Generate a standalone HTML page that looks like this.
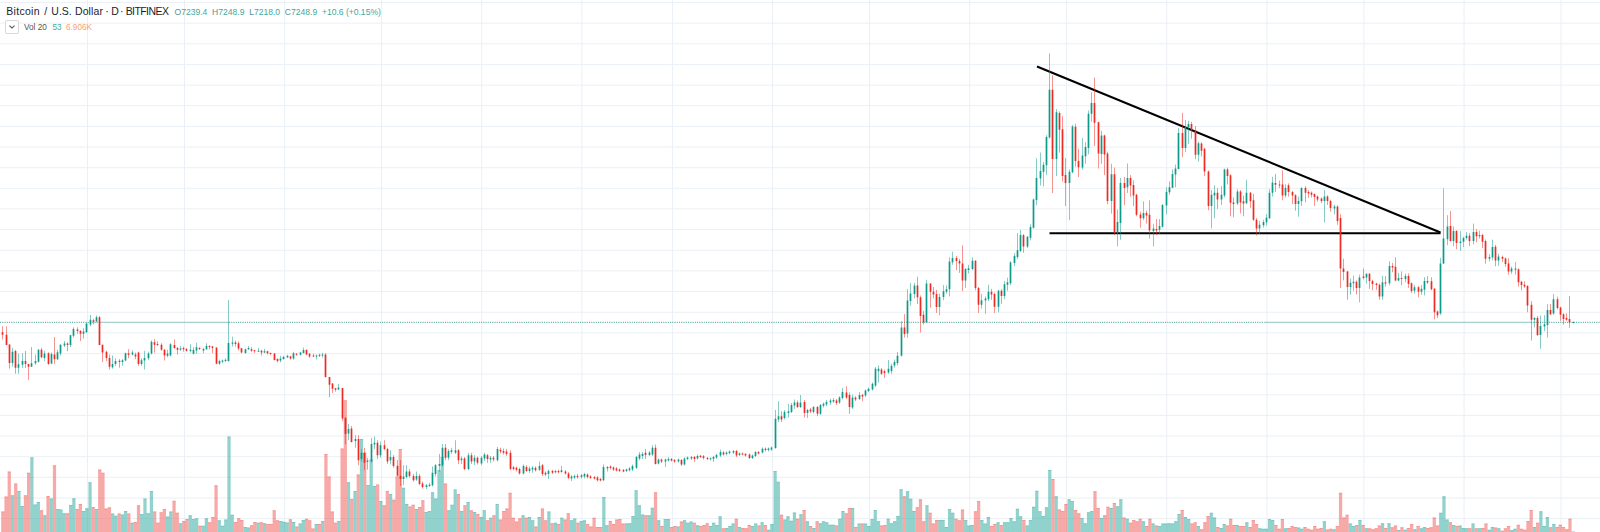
<!DOCTYPE html>
<html><head><meta charset="utf-8"><title>Bitcoin / U.S. Dollar</title>
<style>
html,body{margin:0;padding:0;background:#fff;}
body{width:1600px;height:532px;overflow:hidden;position:relative;font-family:"Liberation Sans",sans-serif;}
.chart{position:absolute;left:0;top:0;}
.t{position:absolute;white-space:nowrap;line-height:1;}
.title{left:6px;top:6.2px;font-size:10.5px;color:#1c1c28;width:170px;height:12px;}
.title span{position:absolute;top:0;}
.ohlc{left:174.5px;top:7.8px;font-size:8.55px;color:#3fa89c;}
.ohlc i{font-style:normal;color:#5d8f97;}
.btn{position:absolute;left:5.4px;top:20.4px;width:13.9px;height:13.4px;border:1px solid #d9d9d9;border-radius:2px;box-sizing:border-box;background:#fff;}
.vol{left:24px;top:24px;font-size:8.2px;color:#555;}
.v1{left:52.5px;top:24px;font-size:8.2px;color:#4aa99e;}
.v2{left:66px;top:24px;font-size:8.2px;color:#f7a26e;}
</style></head><body>
<div class="chart"><svg width="1600" height="532" viewBox="0 0 1600 532" style="display:block">
<rect width="1600" height="532" fill="#fff"/>
<path d="M0 2.5H1600M0 23.1H1600M0 43.8H1600M0 64.4H1600M0 85.1H1600M0 105.7H1600M0 126.4H1600M0 147.0H1600M0 167.7H1600M0 188.3H1600M0 208.9H1600M0 229.6H1600M0 250.2H1600M0 270.9H1600M0 291.5H1600M0 312.2H1600M0 332.8H1600M0 353.5H1600M0 374.1H1600M0 394.8H1600M0 415.4H1600M0 436.0H1600M0 456.7H1600M0 477.3H1600M0 498.0H1600M0 518.6H1600M87.5 0V532M184.5 0V532M284.6 0V532M381.6 0V532M481.7 0V532M581.9 0V532M672.4 0V532M772.5 0V532M869.5 0V532M969.7 0V532M1066.6 0V532M1166.8 0V532M1266.9 0V532M1363.9 0V532M1464.0 0V532M1561.0 0V532" stroke="#eaf0f6" stroke-width="1" fill="none"/>
<path d="M10.88 495.2h3.23V532h-3.23zM17.34 491.0h3.23V532h-3.23zM20.57 506.0h3.23V532h-3.23zM30.27 457.2h3.23V532h-3.23zM33.50 504.5h3.23V532h-3.23zM36.73 502.0h3.23V532h-3.23zM43.19 515.2h3.23V532h-3.23zM49.65 498.5h3.23V532h-3.23zM56.12 509.0h3.23V532h-3.23zM59.35 509.5h3.23V532h-3.23zM62.58 513.2h3.23V532h-3.23zM69.04 505.0h3.23V532h-3.23zM72.27 498.2h3.23V532h-3.23zM81.97 511.0h3.23V532h-3.23zM85.20 508.2h3.23V532h-3.23zM88.43 482.2h3.23V532h-3.23zM94.89 509.0h3.23V532h-3.23zM111.05 513.5h3.23V532h-3.23zM114.28 515.8h3.23V532h-3.23zM120.74 514.5h3.23V532h-3.23zM123.97 511.0h3.23V532h-3.23zM130.44 522.8h3.23V532h-3.23zM140.13 514.0h3.23V532h-3.23zM143.36 498.5h3.23V532h-3.23zM146.59 513.2h3.23V532h-3.23zM149.82 491.0h3.23V532h-3.23zM165.98 516.5h3.23V532h-3.23zM169.21 511.5h3.23V532h-3.23zM178.91 523.2h3.23V532h-3.23zM188.60 515.2h3.23V532h-3.23zM191.83 519.0h3.23V532h-3.23zM195.06 518.2h3.23V532h-3.23zM201.52 525.8h3.23V532h-3.23zM204.76 518.2h3.23V532h-3.23zM217.68 520.2h3.23V532h-3.23zM220.91 525.8h3.23V532h-3.23zM224.14 519.5h3.23V532h-3.23zM227.38 436.5h3.23V532h-3.23zM230.61 514.8h3.23V532h-3.23zM243.53 527.0h3.23V532h-3.23zM246.76 527.5h3.23V532h-3.23zM256.46 522.8h3.23V532h-3.23zM262.92 523.2h3.23V532h-3.23zM279.08 521.0h3.23V532h-3.23zM282.31 521.8h3.23V532h-3.23zM285.54 522.5h3.23V532h-3.23zM292.00 522.0h3.23V532h-3.23zM298.46 523.5h3.23V532h-3.23zM301.70 520.0h3.23V532h-3.23zM314.62 524.0h3.23V532h-3.23zM321.08 521.0h3.23V532h-3.23zM337.24 521.0h3.23V532h-3.23zM346.93 482.2h3.23V532h-3.23zM353.40 491.0h3.23V532h-3.23zM359.86 439.0h3.23V532h-3.23zM366.32 485.0h3.23V532h-3.23zM369.55 459.5h3.23V532h-3.23zM372.78 486.0h3.23V532h-3.23zM379.25 501.0h3.23V532h-3.23zM388.94 494.0h3.23V532h-3.23zM401.87 487.8h3.23V532h-3.23zM405.10 504.0h3.23V532h-3.23zM414.79 509.0h3.23V532h-3.23zM424.48 512.0h3.23V532h-3.23zM427.72 511.0h3.23V532h-3.23zM430.95 492.2h3.23V532h-3.23zM434.18 498.5h3.23V532h-3.23zM437.41 470.2h3.23V532h-3.23zM440.64 457.0h3.23V532h-3.23zM447.10 510.2h3.23V532h-3.23zM450.34 504.8h3.23V532h-3.23zM453.57 489.5h3.23V532h-3.23zM460.03 511.0h3.23V532h-3.23zM466.49 502.0h3.23V532h-3.23zM472.95 512.0h3.23V532h-3.23zM479.42 517.0h3.23V532h-3.23zM482.65 510.2h3.23V532h-3.23zM489.11 517.8h3.23V532h-3.23zM495.57 504.0h3.23V532h-3.23zM521.42 515.2h3.23V532h-3.23zM527.89 517.0h3.23V532h-3.23zM531.12 520.2h3.23V532h-3.23zM537.58 517.0h3.23V532h-3.23zM547.27 511.5h3.23V532h-3.23zM553.74 522.8h3.23V532h-3.23zM560.20 517.8h3.23V532h-3.23zM569.89 520.2h3.23V532h-3.23zM573.12 518.5h3.23V532h-3.23zM579.59 521.0h3.23V532h-3.23zM582.82 520.2h3.23V532h-3.23zM602.21 497.0h3.23V532h-3.23zM605.44 525.2h3.23V532h-3.23zM624.83 523.5h3.23V532h-3.23zM628.06 523.2h3.23V532h-3.23zM631.29 516.0h3.23V532h-3.23zM634.52 490.2h3.23V532h-3.23zM637.75 505.2h3.23V532h-3.23zM640.98 514.5h3.23V532h-3.23zM647.44 515.2h3.23V532h-3.23zM650.68 507.8h3.23V532h-3.23zM657.14 520.2h3.23V532h-3.23zM663.60 519.0h3.23V532h-3.23zM666.83 519.0h3.23V532h-3.23zM676.53 526.5h3.23V532h-3.23zM682.99 520.2h3.23V532h-3.23zM686.22 522.8h3.23V532h-3.23zM689.45 521.5h3.23V532h-3.23zM695.91 525.2h3.23V532h-3.23zM708.84 526.0h3.23V532h-3.23zM712.07 522.8h3.23V532h-3.23zM715.30 525.0h3.23V532h-3.23zM718.53 516.2h3.23V532h-3.23zM725.00 527.9h3.23V532h-3.23zM728.23 526.0h3.23V532h-3.23zM731.46 523.5h3.23V532h-3.23zM737.92 526.9h3.23V532h-3.23zM750.85 526.0h3.23V532h-3.23zM754.08 523.5h3.23V532h-3.23zM760.54 522.2h3.23V532h-3.23zM767.00 529.7h3.23V532h-3.23zM770.23 524.1h3.23V532h-3.23zM773.47 471.1h3.23V532h-3.23zM776.70 481.8h3.23V532h-3.23zM783.16 519.4h3.23V532h-3.23zM786.39 516.2h3.23V532h-3.23zM789.62 520.7h3.23V532h-3.23zM792.85 512.5h3.23V532h-3.23zM799.32 514.3h3.23V532h-3.23zM805.78 521.3h3.23V532h-3.23zM812.24 527.9h3.23V532h-3.23zM818.70 523.2h3.23V532h-3.23zM821.93 521.3h3.23V532h-3.23zM825.17 522.2h3.23V532h-3.23zM828.40 524.7h3.23V532h-3.23zM831.63 524.7h3.23V532h-3.23zM838.09 518.8h3.23V532h-3.23zM841.32 510.9h3.23V532h-3.23zM851.02 508.1h3.23V532h-3.23zM857.48 523.5h3.23V532h-3.23zM863.94 523.5h3.23V532h-3.23zM867.17 526.0h3.23V532h-3.23zM870.40 519.0h3.23V532h-3.23zM873.64 510.0h3.23V532h-3.23zM876.87 521.3h3.23V532h-3.23zM886.56 518.8h3.23V532h-3.23zM889.79 523.2h3.23V532h-3.23zM893.02 521.3h3.23V532h-3.23zM896.25 516.0h3.23V532h-3.23zM899.49 489.3h3.23V532h-3.23zM905.95 491.2h3.23V532h-3.23zM909.18 498.7h3.23V532h-3.23zM912.41 510.9h3.23V532h-3.23zM925.34 505.3h3.23V532h-3.23zM938.26 520.0h3.23V532h-3.23zM941.49 520.0h3.23V532h-3.23zM944.72 526.9h3.23V532h-3.23zM947.96 509.1h3.23V532h-3.23zM951.19 512.8h3.23V532h-3.23zM964.11 520.0h3.23V532h-3.23zM967.34 525.4h3.23V532h-3.23zM970.57 525.0h3.23V532h-3.23zM980.27 520.0h3.23V532h-3.23zM983.50 523.5h3.23V532h-3.23zM986.73 517.0h3.23V532h-3.23zM996.42 522.2h3.23V532h-3.23zM1002.89 522.2h3.23V532h-3.23zM1006.12 522.2h3.23V532h-3.23zM1009.35 518.1h3.23V532h-3.23zM1012.58 521.3h3.23V532h-3.23zM1015.81 508.7h3.23V532h-3.23zM1019.04 516.2h3.23V532h-3.23zM1025.51 525.4h3.23V532h-3.23zM1028.74 520.0h3.23V532h-3.23zM1031.97 506.8h3.23V532h-3.23zM1035.20 490.8h3.23V532h-3.23zM1038.43 511.3h3.23V532h-3.23zM1041.66 516.0h3.23V532h-3.23zM1044.89 507.2h3.23V532h-3.23zM1048.13 470.0h3.23V532h-3.23zM1054.59 496.3h3.23V532h-3.23zM1067.51 499.3h3.23V532h-3.23zM1070.74 501.0h3.23V532h-3.23zM1080.44 518.1h3.23V532h-3.23zM1083.67 523.2h3.23V532h-3.23zM1086.90 512.3h3.23V532h-3.23zM1090.13 510.9h3.23V532h-3.23zM1099.83 518.1h3.23V532h-3.23zM1109.52 508.1h3.23V532h-3.23zM1115.98 506.2h3.23V532h-3.23zM1119.21 499.3h3.23V532h-3.23zM1125.68 518.8h3.23V532h-3.23zM1141.83 521.3h3.23V532h-3.23zM1151.53 523.5h3.23V532h-3.23zM1157.99 526.0h3.23V532h-3.23zM1161.22 523.5h3.23V532h-3.23zM1164.45 523.5h3.23V532h-3.23zM1167.68 523.2h3.23V532h-3.23zM1170.91 523.5h3.23V532h-3.23zM1174.15 521.3h3.23V532h-3.23zM1177.38 514.1h3.23V532h-3.23zM1183.84 517.0h3.23V532h-3.23zM1187.07 519.0h3.23V532h-3.23zM1196.77 526.0h3.23V532h-3.23zM1209.69 512.8h3.23V532h-3.23zM1212.92 517.5h3.23V532h-3.23zM1219.38 527.9h3.23V532h-3.23zM1222.62 524.1h3.23V532h-3.23zM1235.54 525.0h3.23V532h-3.23zM1245.23 522.2h3.23V532h-3.23zM1258.16 528.2h3.23V532h-3.23zM1261.39 528.8h3.23V532h-3.23zM1264.62 528.8h3.23V532h-3.23zM1267.85 519.0h3.23V532h-3.23zM1271.09 520.0h3.23V532h-3.23zM1284.01 528.2h3.23V532h-3.23zM1296.94 527.5h3.23V532h-3.23zM1300.17 528.8h3.23V532h-3.23zM1322.79 521.3h3.23V532h-3.23zM1332.48 529.2h3.23V532h-3.23zM1348.64 523.5h3.23V532h-3.23zM1351.87 526.0h3.23V532h-3.23zM1358.33 520.0h3.23V532h-3.23zM1364.79 528.2h3.23V532h-3.23zM1380.95 523.2h3.23V532h-3.23zM1387.41 523.2h3.23V532h-3.23zM1397.11 530.1h3.23V532h-3.23zM1403.57 529.7h3.23V532h-3.23zM1413.26 529.2h3.23V532h-3.23zM1419.73 528.2h3.23V532h-3.23zM1422.96 526.9h3.23V532h-3.23zM1439.11 512.8h3.23V532h-3.23zM1442.34 496.3h3.23V532h-3.23zM1445.58 519.4h3.23V532h-3.23zM1452.04 525.0h3.23V532h-3.23zM1458.50 525.4h3.23V532h-3.23zM1461.73 527.9h3.23V532h-3.23zM1464.96 528.2h3.23V532h-3.23zM1471.43 523.5h3.23V532h-3.23zM1477.89 528.2h3.23V532h-3.23zM1487.58 529.7h3.23V532h-3.23zM1490.81 526.9h3.23V532h-3.23zM1497.28 528.2h3.23V532h-3.23zM1510.20 530.1h3.23V532h-3.23zM1513.43 528.8h3.23V532h-3.23zM1532.82 526.9h3.23V532h-3.23zM1539.28 511.3h3.23V532h-3.23zM1542.51 526.0h3.23V532h-3.23zM1545.75 517.0h3.23V532h-3.23zM1552.21 524.1h3.23V532h-3.23zM1571.60 531.6h3.23V532h-3.23z" fill="#26a69a" fill-opacity="0.5"/>
<path d="M1.18 511.5h3.23V532h-3.23zM4.42 496.5h3.23V532h-3.23zM7.65 471.5h3.23V532h-3.23zM14.11 483.5h3.23V532h-3.23zM23.80 495.2h3.23V532h-3.23zM27.03 472.8h3.23V532h-3.23zM39.96 510.2h3.23V532h-3.23zM46.42 496.0h3.23V532h-3.23zM52.89 465.2h3.23V532h-3.23zM65.81 513.2h3.23V532h-3.23zM75.50 509.0h3.23V532h-3.23zM78.74 504.0h3.23V532h-3.23zM91.66 507.0h3.23V532h-3.23zM98.12 469.5h3.23V532h-3.23zM101.35 472.8h3.23V532h-3.23zM104.59 508.5h3.23V532h-3.23zM107.82 507.2h3.23V532h-3.23zM117.51 513.5h3.23V532h-3.23zM127.21 513.5h3.23V532h-3.23zM133.67 522.0h3.23V532h-3.23zM136.90 505.2h3.23V532h-3.23zM153.06 511.5h3.23V532h-3.23zM156.29 522.8h3.23V532h-3.23zM159.52 512.2h3.23V532h-3.23zM162.75 509.0h3.23V532h-3.23zM172.44 500.8h3.23V532h-3.23zM175.67 512.8h3.23V532h-3.23zM182.14 521.0h3.23V532h-3.23zM185.37 519.0h3.23V532h-3.23zM198.29 525.8h3.23V532h-3.23zM207.99 522.2h3.23V532h-3.23zM211.22 517.0h3.23V532h-3.23zM214.45 485.2h3.23V532h-3.23zM233.84 522.0h3.23V532h-3.23zM237.07 518.2h3.23V532h-3.23zM240.30 520.0h3.23V532h-3.23zM249.99 525.2h3.23V532h-3.23zM253.23 522.0h3.23V532h-3.23zM259.69 522.2h3.23V532h-3.23zM266.15 524.0h3.23V532h-3.23zM269.38 524.0h3.23V532h-3.23zM272.61 510.2h3.23V532h-3.23zM275.84 520.2h3.23V532h-3.23zM288.77 519.2h3.23V532h-3.23zM295.23 526.5h3.23V532h-3.23zM304.93 518.8h3.23V532h-3.23zM308.16 520.2h3.23V532h-3.23zM311.39 528.5h3.23V532h-3.23zM317.85 524.0h3.23V532h-3.23zM324.31 454.0h3.23V532h-3.23zM327.55 476.5h3.23V532h-3.23zM330.78 511.5h3.23V532h-3.23zM334.01 522.8h3.23V532h-3.23zM340.47 448.5h3.23V532h-3.23zM343.70 400.2h3.23V532h-3.23zM350.16 499.0h3.23V532h-3.23zM356.63 474.5h3.23V532h-3.23zM363.09 452.8h3.23V532h-3.23zM376.02 484.5h3.23V532h-3.23zM382.48 505.2h3.23V532h-3.23zM385.71 491.0h3.23V532h-3.23zM392.17 499.8h3.23V532h-3.23zM395.40 476.5h3.23V532h-3.23zM398.63 449.0h3.23V532h-3.23zM408.33 506.5h3.23V532h-3.23zM411.56 504.8h3.23V532h-3.23zM418.02 507.0h3.23V532h-3.23zM421.25 500.2h3.23V532h-3.23zM443.87 483.5h3.23V532h-3.23zM456.80 494.0h3.23V532h-3.23zM463.26 505.2h3.23V532h-3.23zM469.72 510.2h3.23V532h-3.23zM476.19 514.0h3.23V532h-3.23zM485.88 520.2h3.23V532h-3.23zM492.34 515.2h3.23V532h-3.23zM498.80 519.5h3.23V532h-3.23zM502.04 511.0h3.23V532h-3.23zM505.27 508.5h3.23V532h-3.23zM508.50 492.8h3.23V532h-3.23zM511.73 517.8h3.23V532h-3.23zM514.96 521.5h3.23V532h-3.23zM518.19 518.2h3.23V532h-3.23zM524.65 517.8h3.23V532h-3.23zM534.35 526.5h3.23V532h-3.23zM540.81 508.5h3.23V532h-3.23zM544.04 520.2h3.23V532h-3.23zM550.51 523.2h3.23V532h-3.23zM556.97 524.0h3.23V532h-3.23zM563.43 519.5h3.23V532h-3.23zM566.66 513.2h3.23V532h-3.23zM576.36 522.8h3.23V532h-3.23zM586.05 524.0h3.23V532h-3.23zM589.28 526.5h3.23V532h-3.23zM592.51 517.8h3.23V532h-3.23zM595.74 527.0h3.23V532h-3.23zM598.97 527.0h3.23V532h-3.23zM608.67 521.0h3.23V532h-3.23zM611.90 524.0h3.23V532h-3.23zM615.13 519.5h3.23V532h-3.23zM618.36 519.0h3.23V532h-3.23zM621.59 523.5h3.23V532h-3.23zM644.21 515.2h3.23V532h-3.23zM653.91 492.2h3.23V532h-3.23zM660.37 526.0h3.23V532h-3.23zM670.06 527.0h3.23V532h-3.23zM673.29 526.0h3.23V532h-3.23zM679.76 521.5h3.23V532h-3.23zM692.68 522.8h3.23V532h-3.23zM699.15 526.0h3.23V532h-3.23zM702.38 525.0h3.23V532h-3.23zM705.61 523.2h3.23V532h-3.23zM721.76 528.2h3.23V532h-3.23zM734.69 518.8h3.23V532h-3.23zM741.15 527.9h3.23V532h-3.23zM744.38 528.2h3.23V532h-3.23zM747.61 525.0h3.23V532h-3.23zM757.31 525.6h3.23V532h-3.23zM763.77 525.0h3.23V532h-3.23zM779.93 514.7h3.23V532h-3.23zM796.08 518.8h3.23V532h-3.23zM802.55 510.0h3.23V532h-3.23zM809.01 526.0h3.23V532h-3.23zM815.47 521.3h3.23V532h-3.23zM834.86 525.4h3.23V532h-3.23zM844.55 513.2h3.23V532h-3.23zM847.78 508.1h3.23V532h-3.23zM854.25 526.9h3.23V532h-3.23zM860.71 523.5h3.23V532h-3.23zM880.10 525.4h3.23V532h-3.23zM883.33 525.0h3.23V532h-3.23zM902.72 496.3h3.23V532h-3.23zM915.64 507.2h3.23V532h-3.23zM918.87 499.3h3.23V532h-3.23zM922.10 521.3h3.23V532h-3.23zM928.57 512.8h3.23V532h-3.23zM931.80 523.5h3.23V532h-3.23zM935.03 520.0h3.23V532h-3.23zM954.42 518.8h3.23V532h-3.23zM957.65 520.3h3.23V532h-3.23zM960.88 509.4h3.23V532h-3.23zM973.81 511.3h3.23V532h-3.23zM977.04 501.0h3.23V532h-3.23zM989.96 526.0h3.23V532h-3.23zM993.19 524.1h3.23V532h-3.23zM999.66 525.0h3.23V532h-3.23zM1022.28 520.0h3.23V532h-3.23zM1051.36 479.0h3.23V532h-3.23zM1057.82 509.4h3.23V532h-3.23zM1061.05 510.9h3.23V532h-3.23zM1064.28 504.0h3.23V532h-3.23zM1073.98 510.0h3.23V532h-3.23zM1077.21 513.2h3.23V532h-3.23zM1093.36 491.2h3.23V532h-3.23zM1096.60 508.1h3.23V532h-3.23zM1103.06 515.3h3.23V532h-3.23zM1106.29 506.8h3.23V532h-3.23zM1112.75 502.9h3.23V532h-3.23zM1122.45 517.5h3.23V532h-3.23zM1128.91 522.8h3.23V532h-3.23zM1132.14 520.0h3.23V532h-3.23zM1135.37 521.3h3.23V532h-3.23zM1138.60 518.8h3.23V532h-3.23zM1145.06 526.0h3.23V532h-3.23zM1148.30 518.8h3.23V532h-3.23zM1154.76 525.4h3.23V532h-3.23zM1180.61 510.0h3.23V532h-3.23zM1190.30 523.5h3.23V532h-3.23zM1193.53 522.2h3.23V532h-3.23zM1200.00 529.2h3.23V532h-3.23zM1203.23 522.2h3.23V532h-3.23zM1206.46 516.0h3.23V532h-3.23zM1216.15 526.9h3.23V532h-3.23zM1225.85 525.4h3.23V532h-3.23zM1229.08 518.8h3.23V532h-3.23zM1232.31 525.0h3.23V532h-3.23zM1238.77 526.0h3.23V532h-3.23zM1242.00 526.0h3.23V532h-3.23zM1248.47 526.9h3.23V532h-3.23zM1251.70 520.0h3.23V532h-3.23zM1254.93 524.1h3.23V532h-3.23zM1274.32 525.0h3.23V532h-3.23zM1277.55 528.8h3.23V532h-3.23zM1280.78 519.0h3.23V532h-3.23zM1287.24 527.9h3.23V532h-3.23zM1290.47 526.0h3.23V532h-3.23zM1293.70 526.9h3.23V532h-3.23zM1303.40 526.9h3.23V532h-3.23zM1306.63 528.8h3.23V532h-3.23zM1309.86 529.7h3.23V532h-3.23zM1313.09 526.0h3.23V532h-3.23zM1316.32 528.8h3.23V532h-3.23zM1319.55 527.9h3.23V532h-3.23zM1326.02 529.4h3.23V532h-3.23zM1329.25 528.8h3.23V532h-3.23zM1335.71 526.0h3.23V532h-3.23zM1338.94 492.7h3.23V532h-3.23zM1342.17 517.5h3.23V532h-3.23zM1345.41 514.7h3.23V532h-3.23zM1355.10 525.0h3.23V532h-3.23zM1361.56 525.0h3.23V532h-3.23zM1368.02 528.2h3.23V532h-3.23zM1371.26 529.2h3.23V532h-3.23zM1374.49 528.2h3.23V532h-3.23zM1377.72 525.4h3.23V532h-3.23zM1384.18 527.9h3.23V532h-3.23zM1390.64 527.3h3.23V532h-3.23zM1393.87 525.4h3.23V532h-3.23zM1400.34 527.3h3.23V532h-3.23zM1406.80 527.9h3.23V532h-3.23zM1410.03 524.1h3.23V532h-3.23zM1416.49 526.0h3.23V532h-3.23zM1426.19 527.9h3.23V532h-3.23zM1429.42 527.3h3.23V532h-3.23zM1432.65 517.5h3.23V532h-3.23zM1435.88 525.4h3.23V532h-3.23zM1448.81 522.2h3.23V532h-3.23zM1455.27 526.0h3.23V532h-3.23zM1468.19 528.2h3.23V532h-3.23zM1474.66 528.2h3.23V532h-3.23zM1481.12 527.9h3.23V532h-3.23zM1484.35 523.5h3.23V532h-3.23zM1494.04 527.5h3.23V532h-3.23zM1500.51 530.7h3.23V532h-3.23zM1503.74 528.2h3.23V532h-3.23zM1506.97 526.0h3.23V532h-3.23zM1516.66 524.7h3.23V532h-3.23zM1519.90 528.8h3.23V532h-3.23zM1523.13 529.7h3.23V532h-3.23zM1526.36 520.9h3.23V532h-3.23zM1529.59 510.0h3.23V532h-3.23zM1536.05 522.8h3.23V532h-3.23zM1548.98 527.3h3.23V532h-3.23zM1555.44 526.9h3.23V532h-3.23zM1558.67 524.7h3.23V532h-3.23zM1561.90 526.9h3.23V532h-3.23zM1565.13 529.2h3.23V532h-3.23zM1568.36 518.8h3.23V532h-3.23z" fill="#ef5350" fill-opacity="0.5"/>
<path d="M10.88 495.2h3.23v1h-3.23zM17.34 491.0h3.23v1h-3.23zM20.57 506.0h3.23v1h-3.23zM30.27 457.2h3.23v1h-3.23zM33.50 504.5h3.23v1h-3.23zM36.73 502.0h3.23v1h-3.23zM43.19 515.2h3.23v1h-3.23zM49.65 498.5h3.23v1h-3.23zM56.12 509.0h3.23v1h-3.23zM59.35 509.5h3.23v1h-3.23zM62.58 513.2h3.23v1h-3.23zM69.04 505.0h3.23v1h-3.23zM72.27 498.2h3.23v1h-3.23zM81.97 511.0h3.23v1h-3.23zM85.20 508.2h3.23v1h-3.23zM88.43 482.2h3.23v1h-3.23zM94.89 509.0h3.23v1h-3.23zM111.05 513.5h3.23v1h-3.23zM114.28 515.8h3.23v1h-3.23zM120.74 514.5h3.23v1h-3.23zM123.97 511.0h3.23v1h-3.23zM130.44 522.8h3.23v1h-3.23zM140.13 514.0h3.23v1h-3.23zM143.36 498.5h3.23v1h-3.23zM146.59 513.2h3.23v1h-3.23zM149.82 491.0h3.23v1h-3.23zM165.98 516.5h3.23v1h-3.23zM169.21 511.5h3.23v1h-3.23zM178.91 523.2h3.23v1h-3.23zM188.60 515.2h3.23v1h-3.23zM191.83 519.0h3.23v1h-3.23zM195.06 518.2h3.23v1h-3.23zM201.52 525.8h3.23v1h-3.23zM204.76 518.2h3.23v1h-3.23zM217.68 520.2h3.23v1h-3.23zM220.91 525.8h3.23v1h-3.23zM224.14 519.5h3.23v1h-3.23zM227.38 436.5h3.23v1h-3.23zM230.61 514.8h3.23v1h-3.23zM243.53 527.0h3.23v1h-3.23zM246.76 527.5h3.23v1h-3.23zM256.46 522.8h3.23v1h-3.23zM262.92 523.2h3.23v1h-3.23zM279.08 521.0h3.23v1h-3.23zM282.31 521.8h3.23v1h-3.23zM285.54 522.5h3.23v1h-3.23zM292.00 522.0h3.23v1h-3.23zM298.46 523.5h3.23v1h-3.23zM301.70 520.0h3.23v1h-3.23zM314.62 524.0h3.23v1h-3.23zM321.08 521.0h3.23v1h-3.23zM337.24 521.0h3.23v1h-3.23zM346.93 482.2h3.23v1h-3.23zM353.40 491.0h3.23v1h-3.23zM359.86 439.0h3.23v1h-3.23zM366.32 485.0h3.23v1h-3.23zM369.55 459.5h3.23v1h-3.23zM372.78 486.0h3.23v1h-3.23zM379.25 501.0h3.23v1h-3.23zM388.94 494.0h3.23v1h-3.23zM401.87 487.8h3.23v1h-3.23zM405.10 504.0h3.23v1h-3.23zM414.79 509.0h3.23v1h-3.23zM424.48 512.0h3.23v1h-3.23zM427.72 511.0h3.23v1h-3.23zM430.95 492.2h3.23v1h-3.23zM434.18 498.5h3.23v1h-3.23zM437.41 470.2h3.23v1h-3.23zM440.64 457.0h3.23v1h-3.23zM447.10 510.2h3.23v1h-3.23zM450.34 504.8h3.23v1h-3.23zM453.57 489.5h3.23v1h-3.23zM460.03 511.0h3.23v1h-3.23zM466.49 502.0h3.23v1h-3.23zM472.95 512.0h3.23v1h-3.23zM479.42 517.0h3.23v1h-3.23zM482.65 510.2h3.23v1h-3.23zM489.11 517.8h3.23v1h-3.23zM495.57 504.0h3.23v1h-3.23zM521.42 515.2h3.23v1h-3.23zM527.89 517.0h3.23v1h-3.23zM531.12 520.2h3.23v1h-3.23zM537.58 517.0h3.23v1h-3.23zM547.27 511.5h3.23v1h-3.23zM553.74 522.8h3.23v1h-3.23zM560.20 517.8h3.23v1h-3.23zM569.89 520.2h3.23v1h-3.23zM573.12 518.5h3.23v1h-3.23zM579.59 521.0h3.23v1h-3.23zM582.82 520.2h3.23v1h-3.23zM602.21 497.0h3.23v1h-3.23zM605.44 525.2h3.23v1h-3.23zM624.83 523.5h3.23v1h-3.23zM628.06 523.2h3.23v1h-3.23zM631.29 516.0h3.23v1h-3.23zM634.52 490.2h3.23v1h-3.23zM637.75 505.2h3.23v1h-3.23zM640.98 514.5h3.23v1h-3.23zM647.44 515.2h3.23v1h-3.23zM650.68 507.8h3.23v1h-3.23zM657.14 520.2h3.23v1h-3.23zM663.60 519.0h3.23v1h-3.23zM666.83 519.0h3.23v1h-3.23zM676.53 526.5h3.23v1h-3.23zM682.99 520.2h3.23v1h-3.23zM686.22 522.8h3.23v1h-3.23zM689.45 521.5h3.23v1h-3.23zM695.91 525.2h3.23v1h-3.23zM708.84 526.0h3.23v1h-3.23zM712.07 522.8h3.23v1h-3.23zM715.30 525.0h3.23v1h-3.23zM718.53 516.2h3.23v1h-3.23zM725.00 527.9h3.23v1h-3.23zM728.23 526.0h3.23v1h-3.23zM731.46 523.5h3.23v1h-3.23zM737.92 526.9h3.23v1h-3.23zM750.85 526.0h3.23v1h-3.23zM754.08 523.5h3.23v1h-3.23zM760.54 522.2h3.23v1h-3.23zM767.00 529.7h3.23v1h-3.23zM770.23 524.1h3.23v1h-3.23zM773.47 471.1h3.23v1h-3.23zM776.70 481.8h3.23v1h-3.23zM783.16 519.4h3.23v1h-3.23zM786.39 516.2h3.23v1h-3.23zM789.62 520.7h3.23v1h-3.23zM792.85 512.5h3.23v1h-3.23zM799.32 514.3h3.23v1h-3.23zM805.78 521.3h3.23v1h-3.23zM812.24 527.9h3.23v1h-3.23zM818.70 523.2h3.23v1h-3.23zM821.93 521.3h3.23v1h-3.23zM825.17 522.2h3.23v1h-3.23zM828.40 524.7h3.23v1h-3.23zM831.63 524.7h3.23v1h-3.23zM838.09 518.8h3.23v1h-3.23zM841.32 510.9h3.23v1h-3.23zM851.02 508.1h3.23v1h-3.23zM857.48 523.5h3.23v1h-3.23zM863.94 523.5h3.23v1h-3.23zM867.17 526.0h3.23v1h-3.23zM870.40 519.0h3.23v1h-3.23zM873.64 510.0h3.23v1h-3.23zM876.87 521.3h3.23v1h-3.23zM886.56 518.8h3.23v1h-3.23zM889.79 523.2h3.23v1h-3.23zM893.02 521.3h3.23v1h-3.23zM896.25 516.0h3.23v1h-3.23zM899.49 489.3h3.23v1h-3.23zM905.95 491.2h3.23v1h-3.23zM909.18 498.7h3.23v1h-3.23zM912.41 510.9h3.23v1h-3.23zM925.34 505.3h3.23v1h-3.23zM938.26 520.0h3.23v1h-3.23zM941.49 520.0h3.23v1h-3.23zM944.72 526.9h3.23v1h-3.23zM947.96 509.1h3.23v1h-3.23zM951.19 512.8h3.23v1h-3.23zM964.11 520.0h3.23v1h-3.23zM967.34 525.4h3.23v1h-3.23zM970.57 525.0h3.23v1h-3.23zM980.27 520.0h3.23v1h-3.23zM983.50 523.5h3.23v1h-3.23zM986.73 517.0h3.23v1h-3.23zM996.42 522.2h3.23v1h-3.23zM1002.89 522.2h3.23v1h-3.23zM1006.12 522.2h3.23v1h-3.23zM1009.35 518.1h3.23v1h-3.23zM1012.58 521.3h3.23v1h-3.23zM1015.81 508.7h3.23v1h-3.23zM1019.04 516.2h3.23v1h-3.23zM1025.51 525.4h3.23v1h-3.23zM1028.74 520.0h3.23v1h-3.23zM1031.97 506.8h3.23v1h-3.23zM1035.20 490.8h3.23v1h-3.23zM1038.43 511.3h3.23v1h-3.23zM1041.66 516.0h3.23v1h-3.23zM1044.89 507.2h3.23v1h-3.23zM1048.13 470.0h3.23v1h-3.23zM1054.59 496.3h3.23v1h-3.23zM1067.51 499.3h3.23v1h-3.23zM1070.74 501.0h3.23v1h-3.23zM1080.44 518.1h3.23v1h-3.23zM1083.67 523.2h3.23v1h-3.23zM1086.90 512.3h3.23v1h-3.23zM1090.13 510.9h3.23v1h-3.23zM1099.83 518.1h3.23v1h-3.23zM1109.52 508.1h3.23v1h-3.23zM1115.98 506.2h3.23v1h-3.23zM1119.21 499.3h3.23v1h-3.23zM1125.68 518.8h3.23v1h-3.23zM1141.83 521.3h3.23v1h-3.23zM1151.53 523.5h3.23v1h-3.23zM1157.99 526.0h3.23v1h-3.23zM1161.22 523.5h3.23v1h-3.23zM1164.45 523.5h3.23v1h-3.23zM1167.68 523.2h3.23v1h-3.23zM1170.91 523.5h3.23v1h-3.23zM1174.15 521.3h3.23v1h-3.23zM1177.38 514.1h3.23v1h-3.23zM1183.84 517.0h3.23v1h-3.23zM1187.07 519.0h3.23v1h-3.23zM1196.77 526.0h3.23v1h-3.23zM1209.69 512.8h3.23v1h-3.23zM1212.92 517.5h3.23v1h-3.23zM1219.38 527.9h3.23v1h-3.23zM1222.62 524.1h3.23v1h-3.23zM1235.54 525.0h3.23v1h-3.23zM1245.23 522.2h3.23v1h-3.23zM1258.16 528.2h3.23v1h-3.23zM1261.39 528.8h3.23v1h-3.23zM1264.62 528.8h3.23v1h-3.23zM1267.85 519.0h3.23v1h-3.23zM1271.09 520.0h3.23v1h-3.23zM1284.01 528.2h3.23v1h-3.23zM1296.94 527.5h3.23v1h-3.23zM1300.17 528.8h3.23v1h-3.23zM1322.79 521.3h3.23v1h-3.23zM1332.48 529.2h3.23v1h-3.23zM1348.64 523.5h3.23v1h-3.23zM1351.87 526.0h3.23v1h-3.23zM1358.33 520.0h3.23v1h-3.23zM1364.79 528.2h3.23v1h-3.23zM1380.95 523.2h3.23v1h-3.23zM1387.41 523.2h3.23v1h-3.23zM1397.11 530.1h3.23v1h-3.23zM1403.57 529.7h3.23v1h-3.23zM1413.26 529.2h3.23v1h-3.23zM1419.73 528.2h3.23v1h-3.23zM1422.96 526.9h3.23v1h-3.23zM1439.11 512.8h3.23v1h-3.23zM1442.34 496.3h3.23v1h-3.23zM1445.58 519.4h3.23v1h-3.23zM1452.04 525.0h3.23v1h-3.23zM1458.50 525.4h3.23v1h-3.23zM1461.73 527.9h3.23v1h-3.23zM1464.96 528.2h3.23v1h-3.23zM1471.43 523.5h3.23v1h-3.23zM1477.89 528.2h3.23v1h-3.23zM1487.58 529.7h3.23v1h-3.23zM1490.81 526.9h3.23v1h-3.23zM1497.28 528.2h3.23v1h-3.23zM1510.20 530.1h3.23v1h-3.23zM1513.43 528.8h3.23v1h-3.23zM1532.82 526.9h3.23v1h-3.23zM1539.28 511.3h3.23v1h-3.23zM1542.51 526.0h3.23v1h-3.23zM1545.75 517.0h3.23v1h-3.23zM1552.21 524.1h3.23v1h-3.23zM1571.60 531.6h3.23v1h-3.23z" fill="#26a69a" fill-opacity="0.22"/>
<path d="M1.18 511.5h3.23v1h-3.23zM4.42 496.5h3.23v1h-3.23zM7.65 471.5h3.23v1h-3.23zM14.11 483.5h3.23v1h-3.23zM23.80 495.2h3.23v1h-3.23zM27.03 472.8h3.23v1h-3.23zM39.96 510.2h3.23v1h-3.23zM46.42 496.0h3.23v1h-3.23zM52.89 465.2h3.23v1h-3.23zM65.81 513.2h3.23v1h-3.23zM75.50 509.0h3.23v1h-3.23zM78.74 504.0h3.23v1h-3.23zM91.66 507.0h3.23v1h-3.23zM98.12 469.5h3.23v1h-3.23zM101.35 472.8h3.23v1h-3.23zM104.59 508.5h3.23v1h-3.23zM107.82 507.2h3.23v1h-3.23zM117.51 513.5h3.23v1h-3.23zM127.21 513.5h3.23v1h-3.23zM133.67 522.0h3.23v1h-3.23zM136.90 505.2h3.23v1h-3.23zM153.06 511.5h3.23v1h-3.23zM156.29 522.8h3.23v1h-3.23zM159.52 512.2h3.23v1h-3.23zM162.75 509.0h3.23v1h-3.23zM172.44 500.8h3.23v1h-3.23zM175.67 512.8h3.23v1h-3.23zM182.14 521.0h3.23v1h-3.23zM185.37 519.0h3.23v1h-3.23zM198.29 525.8h3.23v1h-3.23zM207.99 522.2h3.23v1h-3.23zM211.22 517.0h3.23v1h-3.23zM214.45 485.2h3.23v1h-3.23zM233.84 522.0h3.23v1h-3.23zM237.07 518.2h3.23v1h-3.23zM240.30 520.0h3.23v1h-3.23zM249.99 525.2h3.23v1h-3.23zM253.23 522.0h3.23v1h-3.23zM259.69 522.2h3.23v1h-3.23zM266.15 524.0h3.23v1h-3.23zM269.38 524.0h3.23v1h-3.23zM272.61 510.2h3.23v1h-3.23zM275.84 520.2h3.23v1h-3.23zM288.77 519.2h3.23v1h-3.23zM295.23 526.5h3.23v1h-3.23zM304.93 518.8h3.23v1h-3.23zM308.16 520.2h3.23v1h-3.23zM311.39 528.5h3.23v1h-3.23zM317.85 524.0h3.23v1h-3.23zM324.31 454.0h3.23v1h-3.23zM327.55 476.5h3.23v1h-3.23zM330.78 511.5h3.23v1h-3.23zM334.01 522.8h3.23v1h-3.23zM340.47 448.5h3.23v1h-3.23zM343.70 400.2h3.23v1h-3.23zM350.16 499.0h3.23v1h-3.23zM356.63 474.5h3.23v1h-3.23zM363.09 452.8h3.23v1h-3.23zM376.02 484.5h3.23v1h-3.23zM382.48 505.2h3.23v1h-3.23zM385.71 491.0h3.23v1h-3.23zM392.17 499.8h3.23v1h-3.23zM395.40 476.5h3.23v1h-3.23zM398.63 449.0h3.23v1h-3.23zM408.33 506.5h3.23v1h-3.23zM411.56 504.8h3.23v1h-3.23zM418.02 507.0h3.23v1h-3.23zM421.25 500.2h3.23v1h-3.23zM443.87 483.5h3.23v1h-3.23zM456.80 494.0h3.23v1h-3.23zM463.26 505.2h3.23v1h-3.23zM469.72 510.2h3.23v1h-3.23zM476.19 514.0h3.23v1h-3.23zM485.88 520.2h3.23v1h-3.23zM492.34 515.2h3.23v1h-3.23zM498.80 519.5h3.23v1h-3.23zM502.04 511.0h3.23v1h-3.23zM505.27 508.5h3.23v1h-3.23zM508.50 492.8h3.23v1h-3.23zM511.73 517.8h3.23v1h-3.23zM514.96 521.5h3.23v1h-3.23zM518.19 518.2h3.23v1h-3.23zM524.65 517.8h3.23v1h-3.23zM534.35 526.5h3.23v1h-3.23zM540.81 508.5h3.23v1h-3.23zM544.04 520.2h3.23v1h-3.23zM550.51 523.2h3.23v1h-3.23zM556.97 524.0h3.23v1h-3.23zM563.43 519.5h3.23v1h-3.23zM566.66 513.2h3.23v1h-3.23zM576.36 522.8h3.23v1h-3.23zM586.05 524.0h3.23v1h-3.23zM589.28 526.5h3.23v1h-3.23zM592.51 517.8h3.23v1h-3.23zM595.74 527.0h3.23v1h-3.23zM598.97 527.0h3.23v1h-3.23zM608.67 521.0h3.23v1h-3.23zM611.90 524.0h3.23v1h-3.23zM615.13 519.5h3.23v1h-3.23zM618.36 519.0h3.23v1h-3.23zM621.59 523.5h3.23v1h-3.23zM644.21 515.2h3.23v1h-3.23zM653.91 492.2h3.23v1h-3.23zM660.37 526.0h3.23v1h-3.23zM670.06 527.0h3.23v1h-3.23zM673.29 526.0h3.23v1h-3.23zM679.76 521.5h3.23v1h-3.23zM692.68 522.8h3.23v1h-3.23zM699.15 526.0h3.23v1h-3.23zM702.38 525.0h3.23v1h-3.23zM705.61 523.2h3.23v1h-3.23zM721.76 528.2h3.23v1h-3.23zM734.69 518.8h3.23v1h-3.23zM741.15 527.9h3.23v1h-3.23zM744.38 528.2h3.23v1h-3.23zM747.61 525.0h3.23v1h-3.23zM757.31 525.6h3.23v1h-3.23zM763.77 525.0h3.23v1h-3.23zM779.93 514.7h3.23v1h-3.23zM796.08 518.8h3.23v1h-3.23zM802.55 510.0h3.23v1h-3.23zM809.01 526.0h3.23v1h-3.23zM815.47 521.3h3.23v1h-3.23zM834.86 525.4h3.23v1h-3.23zM844.55 513.2h3.23v1h-3.23zM847.78 508.1h3.23v1h-3.23zM854.25 526.9h3.23v1h-3.23zM860.71 523.5h3.23v1h-3.23zM880.10 525.4h3.23v1h-3.23zM883.33 525.0h3.23v1h-3.23zM902.72 496.3h3.23v1h-3.23zM915.64 507.2h3.23v1h-3.23zM918.87 499.3h3.23v1h-3.23zM922.10 521.3h3.23v1h-3.23zM928.57 512.8h3.23v1h-3.23zM931.80 523.5h3.23v1h-3.23zM935.03 520.0h3.23v1h-3.23zM954.42 518.8h3.23v1h-3.23zM957.65 520.3h3.23v1h-3.23zM960.88 509.4h3.23v1h-3.23zM973.81 511.3h3.23v1h-3.23zM977.04 501.0h3.23v1h-3.23zM989.96 526.0h3.23v1h-3.23zM993.19 524.1h3.23v1h-3.23zM999.66 525.0h3.23v1h-3.23zM1022.28 520.0h3.23v1h-3.23zM1051.36 479.0h3.23v1h-3.23zM1057.82 509.4h3.23v1h-3.23zM1061.05 510.9h3.23v1h-3.23zM1064.28 504.0h3.23v1h-3.23zM1073.98 510.0h3.23v1h-3.23zM1077.21 513.2h3.23v1h-3.23zM1093.36 491.2h3.23v1h-3.23zM1096.60 508.1h3.23v1h-3.23zM1103.06 515.3h3.23v1h-3.23zM1106.29 506.8h3.23v1h-3.23zM1112.75 502.9h3.23v1h-3.23zM1122.45 517.5h3.23v1h-3.23zM1128.91 522.8h3.23v1h-3.23zM1132.14 520.0h3.23v1h-3.23zM1135.37 521.3h3.23v1h-3.23zM1138.60 518.8h3.23v1h-3.23zM1145.06 526.0h3.23v1h-3.23zM1148.30 518.8h3.23v1h-3.23zM1154.76 525.4h3.23v1h-3.23zM1180.61 510.0h3.23v1h-3.23zM1190.30 523.5h3.23v1h-3.23zM1193.53 522.2h3.23v1h-3.23zM1200.00 529.2h3.23v1h-3.23zM1203.23 522.2h3.23v1h-3.23zM1206.46 516.0h3.23v1h-3.23zM1216.15 526.9h3.23v1h-3.23zM1225.85 525.4h3.23v1h-3.23zM1229.08 518.8h3.23v1h-3.23zM1232.31 525.0h3.23v1h-3.23zM1238.77 526.0h3.23v1h-3.23zM1242.00 526.0h3.23v1h-3.23zM1248.47 526.9h3.23v1h-3.23zM1251.70 520.0h3.23v1h-3.23zM1254.93 524.1h3.23v1h-3.23zM1274.32 525.0h3.23v1h-3.23zM1277.55 528.8h3.23v1h-3.23zM1280.78 519.0h3.23v1h-3.23zM1287.24 527.9h3.23v1h-3.23zM1290.47 526.0h3.23v1h-3.23zM1293.70 526.9h3.23v1h-3.23zM1303.40 526.9h3.23v1h-3.23zM1306.63 528.8h3.23v1h-3.23zM1309.86 529.7h3.23v1h-3.23zM1313.09 526.0h3.23v1h-3.23zM1316.32 528.8h3.23v1h-3.23zM1319.55 527.9h3.23v1h-3.23zM1326.02 529.4h3.23v1h-3.23zM1329.25 528.8h3.23v1h-3.23zM1335.71 526.0h3.23v1h-3.23zM1338.94 492.7h3.23v1h-3.23zM1342.17 517.5h3.23v1h-3.23zM1345.41 514.7h3.23v1h-3.23zM1355.10 525.0h3.23v1h-3.23zM1361.56 525.0h3.23v1h-3.23zM1368.02 528.2h3.23v1h-3.23zM1371.26 529.2h3.23v1h-3.23zM1374.49 528.2h3.23v1h-3.23zM1377.72 525.4h3.23v1h-3.23zM1384.18 527.9h3.23v1h-3.23zM1390.64 527.3h3.23v1h-3.23zM1393.87 525.4h3.23v1h-3.23zM1400.34 527.3h3.23v1h-3.23zM1406.80 527.9h3.23v1h-3.23zM1410.03 524.1h3.23v1h-3.23zM1416.49 526.0h3.23v1h-3.23zM1426.19 527.9h3.23v1h-3.23zM1429.42 527.3h3.23v1h-3.23zM1432.65 517.5h3.23v1h-3.23zM1435.88 525.4h3.23v1h-3.23zM1448.81 522.2h3.23v1h-3.23zM1455.27 526.0h3.23v1h-3.23zM1468.19 528.2h3.23v1h-3.23zM1474.66 528.2h3.23v1h-3.23zM1481.12 527.9h3.23v1h-3.23zM1484.35 523.5h3.23v1h-3.23zM1494.04 527.5h3.23v1h-3.23zM1500.51 530.7h3.23v1h-3.23zM1503.74 528.2h3.23v1h-3.23zM1506.97 526.0h3.23v1h-3.23zM1516.66 524.7h3.23v1h-3.23zM1519.90 528.8h3.23v1h-3.23zM1523.13 529.7h3.23v1h-3.23zM1526.36 520.9h3.23v1h-3.23zM1529.59 510.0h3.23v1h-3.23zM1536.05 522.8h3.23v1h-3.23zM1548.98 527.3h3.23v1h-3.23zM1555.44 526.9h3.23v1h-3.23zM1558.67 524.7h3.23v1h-3.23zM1561.90 526.9h3.23v1h-3.23zM1565.13 529.2h3.23v1h-3.23zM1568.36 518.8h3.23v1h-3.23z" fill="#ef5350" fill-opacity="0.22"/>
<path d="M0 322.3H100M229 322.3H1264M1531 322.3H1600" stroke="#3f9f93" stroke-width="1" stroke-dasharray="1.1 1.15" fill="none"/>
<path d="M100 322.3H229M1264 322.3H1531" stroke="#8cc5bd" stroke-width="1" fill="none"/>
<path d="M1037 66.4L1440.5 232.6" stroke="#000" stroke-width="2.15" fill="none"/>
<path d="M1049.5 233.2H1440.5" stroke="#000" stroke-width="2" fill="none"/>
<path d="M12.5 347.9V366.7M18.5 353.6V373.7M22.5 353.2V368.0M31.5 347.0V366.7M35.5 354.5V364.8M38.5 349.2V362.4M44.5 350.8V361.1M51.5 352.6V364.3M57.5 349.8V360.2M60.5 344.2V355.5M64.5 341.0V347.0M70.5 334.8V347.0M73.5 327.3V337.6M83.5 328.2V338.5M86.5 322.6V332.9M90.5 315.0V326.3M96.5 315.4V322.2M112.5 355.5V368.6M115.5 358.3V365.8M122.5 359.2V365.8M125.5 352.6V361.1M132.5 350.4V355.5M141.5 358.3V365.8M144.5 350.8V369.5M148.5 351.7V360.2M151.5 340.4V354.5M167.5 349.8V357.3M170.5 343.2V356.4M180.5 346.1V350.8M190.5 344.2V352.6M193.5 347.2V354.5M196.5 342.6V353.8M203.5 347.9V353.2M206.5 343.3V349.9M219.5 359.7V365.0M222.5 359.5V363.0M225.5 358.4V362.1M228.5 299.9V361.7M232.5 336.7V346.6M245.5 348.6V353.8M248.5 345.9V349.9M258.5 347.9V351.8M264.5 348.9V353.2M280.5 355.8V362.4M283.5 355.8V359.7M287.5 354.7V357.8M293.5 351.8V359.7M300.5 351.8V355.5M303.5 347.6V353.4M316.5 354.5V359.5M322.5 352.9V357.8M338.5 384.1V389.7M348.5 424.0V440.2M355.5 435.2V447.8M361.5 449.0V461.5M367.5 457.8V469.6M371.5 437.8V462.8M374.5 436.5V449.0M380.5 441.5V457.8M390.5 450.2V464.5M403.5 465.2V485.2M406.5 465.2V478.5M416.5 471.5V481.0M426.5 484.0V489.0M429.5 482.8V487.0M432.5 466.5V486.5M435.5 464.0V476.5M439.5 454.0V471.5M442.5 444.0V466.5M448.5 449.0V460.2M451.5 447.8V454.0M455.5 440.2V454.0M461.5 456.5V464.0M468.5 452.8V470.2M474.5 455.2V465.2M481.5 456.0V465.2M484.5 452.8V461.0M490.5 456.0V462.8M497.5 447.0V461.5M523.5 464.5V474.5M529.5 466.5V472.8M532.5 466.0V472.8M539.5 461.5V471.0M548.5 469.5V479.0M555.5 469.8V473.5M561.5 466.0V472.8M571.5 475.2V481.0M574.5 474.5V479.0M581.5 474.0V478.5M584.5 472.8V478.5M603.5 464.5V481.0M607.5 466.0V471.5M626.5 468.5V472.0M629.5 467.0V471.5M632.5 464.5V471.0M636.5 456.0V469.0M639.5 452.0V460.2M642.5 452.0V459.0M649.5 451.0V456.0M652.5 445.2V456.0M658.5 458.5V464.5M665.5 458.5V467.0M668.5 457.0V461.5M678.5 458.5V462.5M684.5 457.5V465.5M687.5 456.5V460.2M691.5 456.0V460.0M697.5 454.5V459.5M710.5 457.5V460.5M713.5 455.8V462.0M716.5 453.8V458.8M720.5 449.5V457.0M726.5 451.5V455.5M729.5 450.5V454.5M733.5 450.0V454.0M739.5 452.5V456.0M752.5 454.5V459.0M755.5 451.0V457.0M762.5 447.5V453.5M768.5 447.5V451.5M771.5 446.5V451.0M775.5 410.0V448.8M778.5 401.2V422.0M784.5 410.0V419.5M788.5 403.8V417.5M791.5 403.0V413.0M794.5 399.5V408.8M800.5 395.0V408.0M807.5 408.8V418.0M813.5 406.0V413.5M820.5 404.0V415.0M823.5 402.5V407.5M826.5 400.0V406.0M830.5 398.8V405.0M833.5 398.0V403.0M839.5 396.2V404.0M842.5 388.0V399.5M852.5 394.5V409.0M859.5 392.0V400.0M865.5 389.5V397.0M868.5 387.5V392.0M872.5 382.5V390.5M875.5 367.0V387.0M878.5 365.5V382.5M888.5 360.0V373.8M891.5 363.8V373.8M894.5 359.5V367.5M897.5 352.0V365.5M901.5 321.2V356.5M907.5 289.2V337.7M910.5 283.2V305.8M914.5 282.9V298.3M926.5 279.8V322.7M939.5 293.6V315.2M943.5 285.1V300.2M946.5 285.5V293.6M949.5 257.3V296.4M952.5 251.7V264.8M965.5 268.2V287.9M968.5 264.8V273.5M972.5 257.3V270.1M981.5 294.1V308.6M985.5 296.4V313.9M988.5 284.7V301.1M998.5 289.8V312.4M1004.5 281.0V299.2M1007.5 277.6V290.8M1010.5 261.1V285.1M1014.5 253.2V266.3M1017.5 233.0V259.0M1020.5 230.0V252.0M1027.5 236.0V248.0M1030.5 224.3V240.4M1033.5 198.6V228.7M1036.5 158.2V205.2M1040.5 152.6V185.5M1043.5 162.0V186.4M1046.5 135.3V175.1M1049.5 53.5V138.6M1056.5 109.1V176.1M1069.5 169.5V220.2M1072.5 124.9V173.2M1082.5 137.9V169.5M1085.5 142.2V163.8M1088.5 110.5V154.4M1091.5 92.2V121.7M1101.5 130.9V163.8M1111.5 163.8V213.6M1117.5 209.7V246.4M1120.5 177.9V239.8M1127.5 163.5V193.0M1143.5 201.3V220.1M1153.5 223.8V246.4M1159.5 219.1V234.2M1162.5 204.1V227.6M1166.5 187.2V214.4M1169.5 181.5V194.7M1172.5 169.3V188.1M1175.5 164.6V187.2M1178.5 128.0V169.3M1185.5 119.9V152.2M1188.5 120.8V143.9M1198.5 141.7V161.6M1211.5 190.0V228.5M1214.5 185.3V218.2M1221.5 186.2V205.0M1224.5 168.6V197.5M1237.5 189.1V205.0M1246.5 179.7V204.1M1259.5 221.0V234.2M1263.5 219.7V227.6M1266.5 214.1V225.7M1269.5 189.1V219.1M1272.5 176.8V196.6M1285.5 184.4V197.5M1298.5 196.6V216.7M1301.5 187.2V206.0M1324.5 190.0V222.3M1334.5 204.7V214.4M1350.5 278.5V294.8M1353.5 275.7V290.7M1359.5 274.7V302.4M1366.5 273.4V283.6M1382.5 276.1V299.7M1389.5 261.2V285.5M1398.5 272.9V281.3M1405.5 273.4V282.3M1414.5 285.1V293.5M1421.5 285.1V294.8M1424.5 277.2V295.4M1440.5 257.8V314.8M1443.5 188.5V264.0M1447.5 215.2V245.2M1453.5 226.4V246.2M1460.5 231.1V250.9M1463.5 236.8V247.1M1466.5 232.1V239.6M1473.5 223.6V244.3M1479.5 230.6V238.6M1489.5 254.2V261.2M1492.5 239.6V260.3M1498.5 253.7V265.9M1511.5 266.7V273.8M1515.5 262.1V274.7M1534.5 317.0V327.4M1540.5 315.5V348.6M1544.5 315.2V331.1M1547.5 304.2V337.7M1553.5 294.1V314.8M1573.5 321.5V323.4" stroke="#0e9a8a" stroke-width="1" stroke-opacity="0.5" fill="none"/>
<path d="M2.5 326.3V339.5M6.5 326.3V345.1M9.5 344.5V368.6M15.5 349.8V373.7M25.5 350.8V368.0M28.5 363.9V379.9M41.5 347.9V358.3M48.5 352.3V364.8M54.5 337.0V363.9M67.5 342.3V351.1M77.5 327.3V333.8M80.5 330.1V341.0M93.5 318.8V324.4M99.5 316.0V345.1M102.5 344.7V362.0M106.5 350.8V361.1M109.5 354.5V369.5M119.5 359.2V367.7M128.5 349.2V358.3M135.5 352.6V359.2M138.5 351.7V365.8M154.5 339.1V352.6M157.5 341.4V346.1M161.5 343.2V350.8M164.5 348.9V360.5M174.5 339.5V348.9M177.5 347.0V354.5M183.5 346.6V351.7M186.5 347.9V351.7M199.5 347.2V349.9M209.5 345.3V349.2M212.5 345.9V353.2M216.5 347.6V364.3M235.5 340.7V346.6M238.5 341.3V350.5M241.5 347.9V353.2M251.5 347.2V351.8M254.5 349.9V352.9M261.5 349.9V355.5M267.5 350.8V354.5M270.5 352.5V355.1M274.5 353.2V360.4M277.5 358.4V362.4M290.5 355.8V359.7M296.5 353.2V355.8M306.5 349.2V355.1M309.5 353.2V357.8M313.5 353.8V357.1M319.5 353.8V357.1M325.5 353.2V377.5M329.5 377.1V397.3M332.5 383.2V392.9M335.5 387.9V391.6M342.5 387.9V420.8M345.5 417.0V444.2M351.5 426.0V442.5M358.5 435.2V465.2M364.5 447.8V470.2M377.5 440.2V459.0M384.5 440.2V450.2M387.5 447.8V464.0M393.5 455.2V467.8M397.5 460.0V476.4M400.5 460.0V486.0M409.5 469.0V477.8M413.5 474.0V481.5M419.5 474.0V485.2M422.5 481.5V488.5M445.5 444.0V460.2M458.5 449.0V464.0M464.5 457.0V470.2M471.5 452.8V464.0M477.5 456.5V464.5M487.5 454.0V462.8M493.5 456.0V461.5M500.5 447.8V453.5M503.5 448.5V454.5M506.5 449.0V456.0M510.5 450.2V470.2M513.5 466.0V470.2M516.5 466.5V471.5M519.5 467.8V474.5M526.5 465.2V472.0M535.5 466.5V471.5M542.5 464.0V476.0M545.5 471.5V476.0M552.5 469.8V474.0M558.5 469.5V473.5M565.5 470.2V474.5M568.5 472.0V479.0M577.5 474.0V478.5M587.5 473.5V478.5M590.5 475.2V479.0M594.5 476.0V479.5M597.5 476.0V481.5M600.5 477.8V481.5M610.5 465.5V469.5M613.5 466.5V471.0M616.5 467.0V471.5M619.5 468.5V472.0M623.5 469.0V472.2M645.5 449.0V459.0M655.5 444.5V464.5M661.5 458.5V463.0M671.5 458.0V461.5M674.5 459.0V462.8M681.5 459.0V466.0M694.5 456.0V462.0M700.5 455.0V458.0M703.5 455.0V459.5M707.5 457.0V460.0M723.5 451.2V455.5M736.5 450.0V457.0M742.5 452.5V455.5M745.5 453.0V456.5M749.5 453.5V459.0M758.5 451.0V454.5M765.5 447.5V451.5M781.5 411.2V422.0M797.5 400.5V408.0M804.5 400.0V417.5M810.5 408.0V413.0M817.5 406.0V416.2M836.5 399.0V405.0M846.5 386.2V399.0M849.5 392.5V413.8M855.5 396.2V401.2M862.5 393.8V401.2M881.5 368.0V375.0M884.5 369.5V378.0M904.5 314.2V337.7M917.5 276.7V303.9M920.5 295.5V332.5M923.5 311.1V324.6M930.5 283.2V307.7M933.5 287.0V298.3M936.5 289.8V312.9M956.5 256.0V270.1M959.5 258.8V272.9M962.5 245.3V291.1M975.5 260.3V290.4M978.5 287.0V312.9M991.5 288.9V299.8M994.5 292.6V312.9M1001.5 289.2V303.9M1023.5 234.0V252.8M1052.5 75.3V193.0M1059.5 111.4V152.6M1062.5 116.1V181.7M1065.5 158.2V206.1M1075.5 123.6V166.7M1078.5 148.8V177.0M1094.5 77.6V146.0M1098.5 121.7V168.5M1104.5 134.7V175.1M1107.5 151.6V204.2M1114.5 167.6V235.1M1124.5 177.0V205.2M1130.5 175.1V196.7M1133.5 180.4V206.1M1136.5 193.8V216.3M1140.5 211.6V227.6M1146.5 210.7V223.5M1149.5 200.3V238.5M1156.5 219.1V235.1M1182.5 112.9V157.1M1191.5 121.8V138.7M1195.5 126.1V159.2M1201.5 142.3V156.4M1204.5 147.9V176.1M1208.5 170.5V210.3M1217.5 188.1V208.8M1227.5 167.6V184.5M1230.5 174.2V216.3M1233.5 197.5V217.3M1240.5 190.0V213.5M1243.5 195.6V216.3M1250.5 191.9V207.9M1253.5 193.8V221.0M1256.5 218.2V235.5M1275.5 174.0V191.9M1279.5 180.6V188.1M1282.5 170.3V200.3M1288.5 183.4V196.6M1292.5 190.9V204.1M1295.5 194.1V210.7M1305.5 186.2V202.2M1308.5 190.0V197.9M1311.5 191.5V197.5M1314.5 193.4V206.0M1317.5 195.6V201.7M1321.5 197.5V203.2M1327.5 195.3V205.0M1330.5 199.8V211.6M1337.5 205.4V224.8M1340.5 214.2V287.9M1343.5 258.8V280.4M1347.5 271.0V299.7M1356.5 280.4V294.5M1363.5 268.5V279.4M1369.5 273.0V288.8M1372.5 279.8V290.3M1376.5 282.8V289.8M1379.5 283.6V299.7M1385.5 276.1V286.6M1392.5 262.9V272.3M1395.5 257.3V281.3M1401.5 271.5V285.1M1408.5 273.4V287.9M1411.5 282.3V293.0M1418.5 286.0V297.3M1427.5 276.1V284.1M1431.5 277.2V290.3M1434.5 287.9V319.3M1437.5 310.5V318.0M1450.5 211.0V241.5M1456.5 230.2V249.0M1469.5 233.0V246.2M1476.5 229.2V242.4M1482.5 233.9V248.0M1485.5 239.6V263.6M1495.5 244.8V266.3M1502.5 255.6V262.1M1505.5 257.4V266.8M1508.5 258.4V274.7M1518.5 268.5V286.6M1521.5 280.9V290.3M1524.5 281.3V287.9M1527.5 285.1V312.3M1531.5 301.1V340.5M1537.5 316.1V335.8M1550.5 304.2V315.2M1557.5 296.7V309.5M1560.5 306.7V320.8M1563.5 313.3V324.5M1566.5 313.3V320.8M1569.5 296.0V327.9" stroke="#ee2a22" stroke-width="1" stroke-opacity="0.5" fill="none"/>
<path d="M11.65 351.7h1.7V363.0h-1.7zM17.65 364.3h1.7V367.7h-1.7zM21.65 361.1h1.7V364.8h-1.7zM30.65 363.3h1.7V366.7h-1.7zM34.65 361.1h1.7V363.3h-1.7zM37.65 349.8h1.7V361.7h-1.7zM43.65 353.6h1.7V357.9h-1.7zM50.65 354.1h1.7V363.5h-1.7zM56.65 352.3h1.7V359.2h-1.7zM59.65 344.7h1.7V353.6h-1.7zM63.65 343.6h1.7V345.5h-1.7zM69.65 335.3h1.7V345.1h-1.7zM72.65 329.1h1.7V335.7h-1.7zM82.65 331.6h1.7V333.8h-1.7zM85.65 323.5h1.7V332.3h-1.7zM89.65 319.7h1.7V324.4h-1.7zM95.65 317.3h1.7V321.6h-1.7zM111.65 363.9h1.7V367.3h-1.7zM114.65 361.1h1.7V363.9h-1.7zM121.65 360.2h1.7V362.0h-1.7zM124.65 353.2h1.7V360.5h-1.7zM131.65 352.6h1.7V354.5h-1.7zM140.65 360.2h1.7V363.9h-1.7zM143.65 357.9h1.7V360.5h-1.7zM147.65 353.6h1.7V358.3h-1.7zM150.65 341.7h1.7V353.6h-1.7zM166.65 353.6h1.7V355.8h-1.7zM169.65 344.2h1.7V355.5h-1.7zM179.65 348.5h1.7V349.8h-1.7zM189.65 349.8h1.7V351.1h-1.7zM192.65 349.9h1.7V353.8h-1.7zM195.65 347.2h1.7V350.5h-1.7zM202.65 348.9h1.7V350.5h-1.7zM205.65 345.9h1.7V349.2h-1.7zM218.65 361.1h1.7V363.7h-1.7zM221.65 360.4h1.7V361.7h-1.7zM224.65 359.7h1.7V361.1h-1.7zM227.65 342.9h1.7V361.1h-1.7zM231.65 342.6h1.7V343.7h-1.7zM244.65 349.2h1.7V352.9h-1.7zM247.65 347.9h1.7V349.2h-1.7zM257.65 350.7h1.7V351.7h-1.7zM263.65 351.2h1.7V352.5h-1.7zM279.65 358.4h1.7V360.4h-1.7zM282.65 357.1h1.7V359.1h-1.7zM286.65 355.8h1.7V357.4h-1.7zM292.65 353.2h1.7V358.4h-1.7zM299.65 352.5h1.7V354.7h-1.7zM302.65 349.9h1.7V352.9h-1.7zM315.65 355.4h1.7V356.4h-1.7zM321.65 354.5h1.7V355.5h-1.7zM337.65 387.5h1.7V389.4h-1.7zM347.65 429.0h1.7V433.5h-1.7zM354.65 439.0h1.7V441.0h-1.7zM360.65 452.8h1.7V459.0h-1.7zM366.65 460.6h1.7V462.0h-1.7zM370.65 444.0h1.7V461.5h-1.7zM373.65 442.8h1.7V444.5h-1.7zM379.65 445.2h1.7V455.2h-1.7zM389.65 457.0h1.7V460.2h-1.7zM402.65 476.5h1.7V479.0h-1.7zM405.65 471.5h1.7V477.0h-1.7zM415.65 476.0h1.7V479.5h-1.7zM425.65 485.2h1.7V487.0h-1.7zM428.65 484.8h1.7V486.0h-1.7zM431.65 472.8h1.7V485.2h-1.7zM434.65 465.2h1.7V474.0h-1.7zM438.65 464.0h1.7V466.0h-1.7zM441.65 447.8h1.7V465.2h-1.7zM447.65 451.0h1.7V457.8h-1.7zM450.65 450.2h1.7V452.0h-1.7zM454.65 450.2h1.7V452.8h-1.7zM460.65 458.5h1.7V460.2h-1.7zM467.65 455.2h1.7V469.0h-1.7zM473.65 457.8h1.7V461.5h-1.7zM480.65 457.8h1.7V463.5h-1.7zM483.65 454.5h1.7V458.5h-1.7zM489.65 457.8h1.7V459.5h-1.7zM496.65 449.0h1.7V460.2h-1.7zM522.65 466.0h1.7V473.5h-1.7zM528.65 468.5h1.7V471.0h-1.7zM531.65 467.8h1.7V469.5h-1.7zM538.65 466.0h1.7V469.8h-1.7zM547.65 471.0h1.7V474.0h-1.7zM554.65 471.0h1.7V472.2h-1.7zM560.65 470.2h1.7V472.0h-1.7zM570.65 476.5h1.7V478.5h-1.7zM573.65 476.0h1.7V477.5h-1.7zM580.65 475.2h1.7V477.0h-1.7zM583.65 474.0h1.7V476.5h-1.7zM602.65 467.0h1.7V480.2h-1.7zM606.65 467.0h1.7V468.5h-1.7zM625.65 469.5h1.7V471.0h-1.7zM628.65 468.5h1.7V470.2h-1.7zM631.65 466.0h1.7V469.5h-1.7zM635.65 457.0h1.7V467.8h-1.7zM638.65 454.5h1.7V458.5h-1.7zM641.65 454.0h1.7V456.0h-1.7zM648.65 452.5h1.7V455.0h-1.7zM651.65 447.8h1.7V454.5h-1.7zM657.65 459.5h1.7V463.5h-1.7zM664.65 459.5h1.7V461.5h-1.7zM667.65 459.0h1.7V460.5h-1.7zM677.65 459.5h1.7V461.5h-1.7zM683.65 458.5h1.7V464.5h-1.7zM686.65 457.5h1.7V459.0h-1.7zM690.65 457.0h1.7V458.5h-1.7zM696.65 456.0h1.7V458.5h-1.7zM709.65 458.2h1.7V459.2h-1.7zM712.65 457.0h1.7V458.8h-1.7zM715.65 455.0h1.7V457.5h-1.7zM719.65 452.0h1.7V455.5h-1.7zM725.65 452.5h1.7V454.0h-1.7zM728.65 451.5h1.7V453.0h-1.7zM732.65 451.0h1.7V452.5h-1.7zM738.65 453.5h1.7V455.0h-1.7zM751.65 455.5h1.7V458.0h-1.7zM754.65 452.0h1.7V456.0h-1.7zM761.65 448.8h1.7V452.5h-1.7zM767.65 448.5h1.7V450.0h-1.7zM770.65 447.5h1.7V449.5h-1.7zM774.65 418.8h1.7V448.0h-1.7zM777.65 416.2h1.7V419.5h-1.7zM783.65 412.0h1.7V418.0h-1.7zM787.65 411.2h1.7V413.0h-1.7zM790.65 405.0h1.7V412.0h-1.7zM793.65 402.5h1.7V405.5h-1.7zM799.65 402.5h1.7V407.0h-1.7zM806.65 410.0h1.7V413.0h-1.7zM812.65 407.0h1.7V412.0h-1.7zM819.65 405.0h1.7V413.8h-1.7zM822.65 403.8h1.7V405.8h-1.7zM825.65 402.0h1.7V404.5h-1.7zM829.65 400.5h1.7V402.5h-1.7zM832.65 400.0h1.7V401.5h-1.7zM838.65 397.5h1.7V402.5h-1.7zM841.65 392.0h1.7V398.0h-1.7zM851.65 397.5h1.7V407.5h-1.7zM858.65 395.0h1.7V399.0h-1.7zM864.65 390.5h1.7V395.5h-1.7zM867.65 388.8h1.7V391.0h-1.7zM871.65 383.8h1.7V389.5h-1.7zM874.65 368.8h1.7V385.5h-1.7zM877.65 368.8h1.7V371.2h-1.7zM887.65 368.8h1.7V372.5h-1.7zM890.65 365.8h1.7V371.0h-1.7zM893.65 362.0h1.7V365.5h-1.7zM896.65 355.8h1.7V363.0h-1.7zM900.65 327.4h1.7V355.8h-1.7zM906.65 300.5h1.7V333.6h-1.7zM909.65 293.6h1.7V301.1h-1.7zM913.65 285.5h1.7V293.9h-1.7zM925.65 283.6h1.7V322.3h-1.7zM938.65 297.0h1.7V307.1h-1.7zM942.65 291.3h1.7V297.0h-1.7zM945.65 289.2h1.7V291.7h-1.7zM948.65 261.6h1.7V289.2h-1.7zM951.65 257.9h1.7V262.2h-1.7zM964.65 269.1h1.7V280.4h-1.7zM967.65 268.2h1.7V270.1h-1.7zM971.65 260.7h1.7V269.1h-1.7zM980.65 300.2h1.7V304.8h-1.7zM984.65 298.6h1.7V300.5h-1.7zM987.65 291.7h1.7V299.2h-1.7zM997.65 290.8h1.7V306.7h-1.7zM1003.65 284.2h1.7V296.0h-1.7zM1006.65 282.3h1.7V284.7h-1.7zM1009.65 262.6h1.7V283.2h-1.7zM1013.65 256.0h1.7V262.9h-1.7zM1016.65 250.3h1.7V257.0h-1.7zM1019.65 235.0h1.7V251.0h-1.7zM1026.65 236.7h1.7V246.6h-1.7zM1029.65 227.1h1.7V237.8h-1.7zM1032.65 199.5h1.7V227.7h-1.7zM1035.65 177.9h1.7V199.9h-1.7zM1039.65 171.0h1.7V178.5h-1.7zM1042.65 164.8h1.7V171.7h-1.7zM1045.65 137.0h1.7V165.3h-1.7zM1048.65 89.8h1.7V137.5h-1.7zM1055.65 112.3h1.7V159.1h-1.7zM1068.65 171.7h1.7V183.0h-1.7zM1071.65 126.4h1.7V172.3h-1.7zM1081.65 155.4h1.7V167.6h-1.7zM1084.65 146.9h1.7V156.3h-1.7zM1087.65 113.8h1.7V147.9h-1.7zM1090.65 102.9h1.7V113.8h-1.7zM1100.65 135.6h1.7V154.1h-1.7zM1110.65 174.2h1.7V201.1h-1.7zM1116.65 221.9h1.7V232.3h-1.7zM1119.65 183.0h1.7V223.0h-1.7zM1126.65 177.9h1.7V187.3h-1.7zM1142.65 212.9h1.7V218.2h-1.7zM1152.65 228.5h1.7V231.0h-1.7zM1158.65 226.1h1.7V229.8h-1.7zM1161.65 205.0h1.7V226.7h-1.7zM1165.65 191.9h1.7V205.4h-1.7zM1168.65 187.2h1.7V192.3h-1.7zM1171.65 174.0h1.7V187.7h-1.7zM1174.65 168.4h1.7V174.6h-1.7zM1177.65 132.9h1.7V168.9h-1.7zM1184.65 126.8h1.7V147.9h-1.7zM1187.65 124.0h1.7V127.4h-1.7zM1197.65 143.2h1.7V154.8h-1.7zM1210.65 194.7h1.7V206.0h-1.7zM1213.65 192.8h1.7V195.6h-1.7zM1220.65 194.7h1.7V199.4h-1.7zM1223.65 169.5h1.7V195.6h-1.7zM1236.65 191.5h1.7V203.5h-1.7zM1245.65 192.8h1.7V203.2h-1.7zM1258.65 224.8h1.7V228.5h-1.7zM1262.65 222.0h1.7V225.3h-1.7zM1265.65 217.8h1.7V222.3h-1.7zM1268.65 192.8h1.7V218.2h-1.7zM1271.65 182.5h1.7V192.8h-1.7zM1284.65 188.1h1.7V195.6h-1.7zM1297.65 200.9h1.7V204.1h-1.7zM1300.65 188.1h1.7V201.3h-1.7zM1323.65 196.6h1.7V200.9h-1.7zM1333.65 206.5h1.7V208.4h-1.7zM1349.65 282.8h1.7V287.0h-1.7zM1352.65 281.7h1.7V283.2h-1.7zM1358.65 277.6h1.7V287.9h-1.7zM1365.65 273.8h1.7V277.6h-1.7zM1381.65 282.3h1.7V296.4h-1.7zM1388.65 265.9h1.7V283.2h-1.7zM1397.65 277.9h1.7V280.4h-1.7zM1404.65 276.1h1.7V279.1h-1.7zM1413.65 287.3h1.7V290.7h-1.7zM1420.65 288.8h1.7V291.7h-1.7zM1423.65 280.9h1.7V289.8h-1.7zM1439.65 263.5h1.7V313.6h-1.7zM1442.65 238.6h1.7V263.6h-1.7zM1446.65 226.4h1.7V239.2h-1.7zM1452.65 231.1h1.7V241.1h-1.7zM1459.65 241.5h1.7V243.0h-1.7zM1462.65 238.1h1.7V241.8h-1.7zM1465.65 235.8h1.7V238.1h-1.7zM1472.65 232.1h1.7V241.1h-1.7zM1478.65 234.9h1.7V236.2h-1.7zM1488.65 256.9h1.7V258.8h-1.7zM1491.65 247.1h1.7V257.4h-1.7zM1497.65 256.5h1.7V260.6h-1.7zM1510.65 268.5h1.7V271.5h-1.7zM1514.65 268.5h1.7V269.7h-1.7zM1533.65 318.0h1.7V319.8h-1.7zM1539.65 326.1h1.7V334.9h-1.7zM1543.65 324.2h1.7V326.4h-1.7zM1546.65 309.9h1.7V324.9h-1.7zM1552.65 299.2h1.7V313.6h-1.7zM1572.65 321.9h1.7V323.0h-1.7z" fill="#0e9a8a"/>
<path d="M1.65 332.3h1.7V334.8h-1.7zM5.65 334.8h1.7V345.1h-1.7zM8.65 344.5h1.7V363.0h-1.7zM14.65 351.1h1.7V367.7h-1.7zM24.65 361.1h1.7V363.9h-1.7zM27.65 363.9h1.7V366.7h-1.7zM40.65 349.8h1.7V357.3h-1.7zM47.65 353.2h1.7V363.9h-1.7zM53.65 354.5h1.7V359.2h-1.7zM66.65 343.6h1.7V345.1h-1.7zM76.65 329.5h1.7V331.0h-1.7zM79.65 331.0h1.7V333.8h-1.7zM92.65 320.3h1.7V321.8h-1.7zM98.65 317.3h1.7V345.1h-1.7zM101.65 344.7h1.7V352.6h-1.7zM105.65 351.7h1.7V357.9h-1.7zM108.65 357.9h1.7V366.7h-1.7zM118.65 360.7h1.7V362.0h-1.7zM127.65 353.6h1.7V354.9h-1.7zM134.65 354.5h1.7V356.4h-1.7zM137.65 352.6h1.7V363.9h-1.7zM153.65 342.3h1.7V344.7h-1.7zM156.65 344.1h1.7V345.1h-1.7zM160.65 344.7h1.7V349.8h-1.7zM163.65 349.8h1.7V355.5h-1.7zM173.65 345.1h1.7V347.9h-1.7zM176.65 347.9h1.7V349.8h-1.7zM182.65 347.9h1.7V349.2h-1.7zM185.65 348.9h1.7V350.8h-1.7zM198.65 347.9h1.7V348.9h-1.7zM208.65 345.9h1.7V346.9h-1.7zM211.65 346.6h1.7V347.9h-1.7zM215.65 347.6h1.7V363.7h-1.7zM234.65 342.6h1.7V343.9h-1.7zM237.65 343.3h1.7V348.6h-1.7zM240.65 348.2h1.7V352.5h-1.7zM250.65 349.2h1.7V350.8h-1.7zM253.65 350.2h1.7V351.2h-1.7zM260.65 350.8h1.7V352.5h-1.7zM266.65 351.2h1.7V353.2h-1.7zM269.65 353.1h1.7V354.1h-1.7zM273.65 353.6h1.7V360.0h-1.7zM276.65 359.1h1.7V361.1h-1.7zM289.65 356.4h1.7V358.4h-1.7zM295.65 353.8h1.7V354.8h-1.7zM305.65 349.9h1.7V354.5h-1.7zM308.65 353.8h1.7V356.4h-1.7zM312.65 355.4h1.7V356.4h-1.7zM318.65 354.7h1.7V355.8h-1.7zM324.65 354.5h1.7V377.1h-1.7zM328.65 377.1h1.7V384.7h-1.7zM331.65 383.5h1.7V388.8h-1.7zM334.65 388.2h1.7V389.7h-1.7zM341.65 387.9h1.7V418.5h-1.7zM344.65 417.9h1.7V433.9h-1.7zM350.65 428.5h1.7V442.0h-1.7zM357.65 439.0h1.7V460.2h-1.7zM363.65 452.8h1.7V462.8h-1.7zM376.65 442.8h1.7V455.2h-1.7zM383.65 445.2h1.7V449.0h-1.7zM386.65 449.0h1.7V461.5h-1.7zM392.65 457.0h1.7V466.0h-1.7zM396.65 465.7h1.7V475.8h-1.7zM399.65 475.8h1.7V479.0h-1.7zM408.65 471.5h1.7V476.0h-1.7zM412.65 476.0h1.7V480.2h-1.7zM418.65 476.0h1.7V484.0h-1.7zM421.65 483.5h1.7V487.0h-1.7zM444.65 447.8h1.7V457.8h-1.7zM457.65 450.2h1.7V460.2h-1.7zM463.65 458.5h1.7V469.0h-1.7zM470.65 455.2h1.7V461.5h-1.7zM476.65 457.8h1.7V462.8h-1.7zM486.65 455.2h1.7V459.0h-1.7zM492.65 457.8h1.7V459.5h-1.7zM499.65 449.8h1.7V451.5h-1.7zM502.65 451.0h1.7V452.8h-1.7zM505.65 451.5h1.7V454.0h-1.7zM509.65 452.8h1.7V469.0h-1.7zM512.65 467.2h1.7V469.0h-1.7zM515.65 467.8h1.7V469.8h-1.7zM518.65 469.0h1.7V473.5h-1.7zM525.65 467.0h1.7V471.0h-1.7zM534.65 467.8h1.7V470.2h-1.7zM541.65 465.2h1.7V474.0h-1.7zM544.65 472.8h1.7V474.5h-1.7zM551.65 471.0h1.7V472.8h-1.7zM557.65 471.0h1.7V472.2h-1.7zM564.65 471.5h1.7V473.5h-1.7zM567.65 473.5h1.7V477.8h-1.7zM576.65 476.0h1.7V477.2h-1.7zM586.65 474.5h1.7V477.0h-1.7zM589.65 476.5h1.7V478.0h-1.7zM593.65 477.0h1.7V478.5h-1.7zM596.65 477.5h1.7V480.2h-1.7zM599.65 479.0h1.7V480.5h-1.7zM609.65 466.5h1.7V468.0h-1.7zM612.65 467.5h1.7V469.5h-1.7zM615.65 468.5h1.7V470.5h-1.7zM618.65 469.5h1.7V471.0h-1.7zM622.65 470.0h1.7V471.5h-1.7zM644.65 452.8h1.7V455.0h-1.7zM654.65 447.8h1.7V464.0h-1.7zM660.65 459.5h1.7V461.5h-1.7zM670.65 459.0h1.7V460.5h-1.7zM673.65 460.0h1.7V461.5h-1.7zM680.65 460.0h1.7V464.5h-1.7zM693.65 457.0h1.7V459.0h-1.7zM699.65 455.8h1.7V457.0h-1.7zM702.65 456.2h1.7V458.0h-1.7zM706.65 458.0h1.7V459.0h-1.7zM722.65 452.5h1.7V454.5h-1.7zM735.65 451.0h1.7V455.5h-1.7zM741.65 453.5h1.7V454.5h-1.7zM744.65 454.0h1.7V455.5h-1.7zM748.65 454.5h1.7V458.0h-1.7zM757.65 452.0h1.7V453.5h-1.7zM764.65 448.8h1.7V450.0h-1.7zM780.65 416.2h1.7V419.5h-1.7zM796.65 402.5h1.7V407.0h-1.7zM803.65 402.0h1.7V413.0h-1.7zM809.65 409.5h1.7V411.5h-1.7zM816.65 407.0h1.7V413.8h-1.7zM835.65 400.5h1.7V403.0h-1.7zM845.65 392.5h1.7V397.5h-1.7zM848.65 395.0h1.7V407.0h-1.7zM854.65 397.5h1.7V399.5h-1.7zM861.65 395.0h1.7V396.5h-1.7zM880.65 369.5h1.7V373.8h-1.7zM883.65 371.2h1.7V373.0h-1.7zM903.65 327.4h1.7V334.0h-1.7zM916.65 285.5h1.7V297.3h-1.7zM919.65 297.3h1.7V316.1h-1.7zM922.65 314.8h1.7V322.3h-1.7zM929.65 283.6h1.7V291.7h-1.7zM932.65 291.7h1.7V294.5h-1.7zM935.65 294.1h1.7V307.1h-1.7zM955.65 257.9h1.7V261.1h-1.7zM958.65 261.1h1.7V263.5h-1.7zM961.65 263.5h1.7V280.4h-1.7zM974.65 260.7h1.7V287.9h-1.7zM977.65 287.9h1.7V304.8h-1.7zM990.65 291.7h1.7V294.5h-1.7zM993.65 294.1h1.7V306.7h-1.7zM1000.65 290.8h1.7V296.0h-1.7zM1022.65 235.3h1.7V246.6h-1.7zM1051.65 89.8h1.7V159.1h-1.7zM1058.65 112.9h1.7V129.8h-1.7zM1061.65 129.2h1.7V176.1h-1.7zM1064.65 175.1h1.7V183.0h-1.7zM1074.65 126.8h1.7V161.0h-1.7zM1077.65 161.0h1.7V167.2h-1.7zM1093.65 102.9h1.7V122.7h-1.7zM1097.65 122.3h1.7V153.5h-1.7zM1103.65 135.6h1.7V154.4h-1.7zM1106.65 153.5h1.7V201.1h-1.7zM1113.65 174.2h1.7V232.3h-1.7zM1123.65 183.0h1.7V187.9h-1.7zM1129.65 177.9h1.7V185.5h-1.7zM1132.65 184.9h1.7V195.4h-1.7zM1135.65 194.7h1.7V214.8h-1.7zM1139.65 214.4h1.7V218.2h-1.7zM1145.65 212.9h1.7V215.4h-1.7zM1148.65 214.8h1.7V230.4h-1.7zM1155.65 229.1h1.7V230.4h-1.7zM1181.65 133.0h1.7V147.9h-1.7zM1190.65 124.0h1.7V130.2h-1.7zM1194.65 130.2h1.7V154.8h-1.7zM1200.65 143.6h1.7V150.7h-1.7zM1203.65 148.8h1.7V171.4h-1.7zM1207.65 171.4h1.7V206.0h-1.7zM1216.65 192.8h1.7V199.4h-1.7zM1226.65 169.5h1.7V176.1h-1.7zM1229.65 175.2h1.7V202.8h-1.7zM1232.65 202.4h1.7V204.1h-1.7zM1239.65 191.5h1.7V202.4h-1.7zM1242.65 201.3h1.7V203.5h-1.7zM1249.65 192.8h1.7V201.3h-1.7zM1252.65 200.3h1.7V219.7h-1.7zM1255.65 219.7h1.7V228.5h-1.7zM1274.65 182.9h1.7V184.7h-1.7zM1278.65 184.4h1.7V185.4h-1.7zM1281.65 184.4h1.7V195.6h-1.7zM1287.65 185.3h1.7V191.9h-1.7zM1291.65 191.9h1.7V195.6h-1.7zM1294.65 195.3h1.7V204.1h-1.7zM1304.65 188.1h1.7V192.8h-1.7zM1307.65 191.9h1.7V193.4h-1.7zM1310.65 192.8h1.7V194.7h-1.7zM1313.65 194.1h1.7V197.1h-1.7zM1316.65 196.6h1.7V199.4h-1.7zM1320.65 198.5h1.7V200.9h-1.7zM1326.65 196.6h1.7V200.9h-1.7zM1329.65 200.9h1.7V207.9h-1.7zM1336.65 206.5h1.7V221.0h-1.7zM1339.65 218.0h1.7V268.5h-1.7zM1342.65 268.5h1.7V271.9h-1.7zM1346.65 271.5h1.7V287.0h-1.7zM1355.65 281.7h1.7V287.9h-1.7zM1362.65 276.6h1.7V277.9h-1.7zM1368.65 273.8h1.7V280.9h-1.7zM1371.65 280.9h1.7V284.1h-1.7zM1375.65 283.6h1.7V285.1h-1.7zM1378.65 284.7h1.7V296.4h-1.7zM1384.65 282.3h1.7V283.6h-1.7zM1391.65 265.9h1.7V267.4h-1.7zM1394.65 266.7h1.7V280.4h-1.7zM1400.65 277.9h1.7V279.1h-1.7zM1407.65 276.1h1.7V284.1h-1.7zM1410.65 283.2h1.7V291.1h-1.7zM1417.65 287.3h1.7V291.7h-1.7zM1426.65 280.9h1.7V282.4h-1.7zM1430.65 281.3h1.7V289.2h-1.7zM1433.65 288.8h1.7V312.3h-1.7zM1436.65 311.4h1.7V315.2h-1.7zM1449.65 226.1h1.7V241.1h-1.7zM1455.65 231.1h1.7V243.0h-1.7zM1468.65 235.8h1.7V241.1h-1.7zM1475.65 232.1h1.7V236.2h-1.7zM1481.65 234.9h1.7V241.8h-1.7zM1484.65 241.1h1.7V258.8h-1.7zM1494.65 246.7h1.7V260.6h-1.7zM1501.65 256.9h1.7V258.8h-1.7zM1504.65 258.4h1.7V264.0h-1.7zM1507.65 263.6h1.7V271.5h-1.7zM1517.65 269.3h1.7V282.3h-1.7zM1520.65 281.7h1.7V285.1h-1.7zM1523.65 284.7h1.7V286.6h-1.7zM1526.65 286.0h1.7V305.4h-1.7zM1530.65 304.8h1.7V319.8h-1.7zM1536.65 318.0h1.7V334.9h-1.7zM1549.65 309.9h1.7V314.2h-1.7zM1556.65 299.2h1.7V308.0h-1.7zM1559.65 307.6h1.7V314.8h-1.7zM1562.65 314.2h1.7V318.9h-1.7zM1565.65 318.0h1.7V319.8h-1.7zM1568.65 318.9h1.7V322.3h-1.7z" fill="#ee2a22"/>
</svg></div>
<div class="t title"><span style="left:0.3px;letter-spacing:0.28px">Bitcoin</span> <span style="left:38.3px">/</span> <span style="left:45.3px">U.S.</span> <span style="left:69px;letter-spacing:0.1px">Dollar</span> <span style="left:99.3px">·</span> <span style="left:105.2px">D</span> <span style="left:114px">·</span> <span style="left:119.7px;letter-spacing:-0.58px">BITFINEX</span></div>
<div class="t ohlc"><i>O</i>7239.4&nbsp; <i>H</i>7248.9&nbsp; <i>L</i>7218.0&nbsp; <i>C</i>7248.9&nbsp; +10.6 (+0.15%)</div>
<div class="btn"><svg width="11.9" height="11.4" viewBox="0 0 11.9 11.4" style="display:block"><path d="M3.4 4.6L5.95 7.1L8.5 4.6" stroke="#555" stroke-width="1.1" fill="none"/></svg></div>
<div class="t vol">Vol 20</div><div class="t v1">53</div><div class="t v2">6.906K</div>
</body></html>
